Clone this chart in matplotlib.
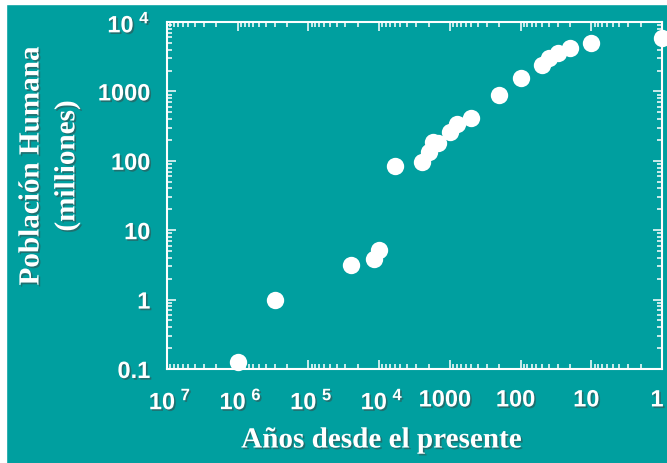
import numpy as np
import matplotlib
matplotlib.use('Agg')
import matplotlib.pyplot as plt
import matplotlib.ticker as mticker
import matplotlib.patheffects as pe
import matplotlib.transforms as mtransforms
from matplotlib.patches import Rectangle

# data
years = [1e6, 3e5, 2.5e4, 1.2e4, 1e4, 6000, 2500, 2000, 1750, 1450, 1000,
         800, 500, 200, 100, 50, 40, 30, 20, 10, 1]
pop = [0.125, 1, 3.1, 3.9, 5.2, 85, 97, 132, 185, 181, 258,
       339, 409, 880, 1560, 2430, 3000, 3570, 4270, 4980, 5820]

xticks = [1e7, 1e6, 1e5, 1e4, 1000, 100, 10, 1]
xlabels = [r'$\mathbf{10}^{\ \mathbf{7}}$', r'$\mathbf{10}^{\ \mathbf{6}}$',
           r'$\mathbf{10}^{\ \mathbf{5}}$', r'$\mathbf{10}^{\ \mathbf{4}}$',
           '1000', '100', '10', '1']
yticks = [0.1, 1, 10, 100, 1000, 1e4]
ylabels = ['0.1', '1', '10', '100', '1000', r'$\mathbf{10}^{\ \mathbf{4}}$']

bg = '#009f9f'
plt.rcParams['mathtext.fontset'] = 'custom'
plt.rcParams['mathtext.bf'] = 'Liberation Sans:bold'
plt.rcParams['mathtext.rm'] = 'Liberation Sans:bold'

shadow = [pe.SimplePatchShadow(offset=(1.2, -1.2), shadow_rgbFace='#404040', alpha=0.5), pe.Normal()]

fig = plt.figure(figsize=(6.67, 4.64), dpi=100, facecolor=bg)
# white strips on the left and top edge
fig.patches.append(Rectangle((0, 0), 6 / 667, 1, transform=fig.transFigure, color='white', zorder=-1))
fig.patches.append(Rectangle((0, 1 - 5 / 464), 1, 5 / 464, transform=fig.transFigure, color='white', zorder=-1))

ax = fig.add_axes([0.2504, 0.2026, 0.7421, 0.7478], facecolor=bg)
ax.plot(years, pop, 'o', color='white', markersize=12.5, markeredgewidth=0, clip_on=False, zorder=5)

ax.set_xscale('log')
ax.set_yscale('log')
ax.set_xlim(1e7, 1)
ax.set_ylim(0.1, 1e4)

ax.xaxis.set_major_locator(mticker.FixedLocator(xticks))
ax.xaxis.set_major_formatter(mticker.FixedFormatter(xlabels))
ax.yaxis.set_major_locator(mticker.FixedLocator(yticks))
ax.yaxis.set_major_formatter(mticker.FixedFormatter(ylabels))
ax.xaxis.set_minor_locator(mticker.LogLocator(subs=np.arange(2, 10), numticks=20))
ax.yaxis.set_minor_locator(mticker.LogLocator(subs=np.arange(2, 10), numticks=20))
ax.xaxis.set_minor_formatter(mticker.NullFormatter())
ax.yaxis.set_minor_formatter(mticker.NullFormatter())

for s in ax.spines.values():
    s.set_color('white')
    s.set_linewidth(1.5)

ax.tick_params(which='both', direction='in', top=True, right=True, colors='white', width=1.1)
ax.tick_params(which='major', length=6.5, pad=12)
ax.tick_params(which='minor', length=3.5)
ax.tick_params(axis='x', which='major', pad=14)

# plain numbers sit a little left of their ticks, powers a little right
for i, lab in enumerate(ax.get_xticklabels()):
    dx = 3 if i < 4 else -5
    shift = mtransforms.ScaledTranslation(dx / 100, 0, fig.dpi_scale_trans)
    lab.set_transform(lab.get_transform() + shift)

for lab in ax.get_xticklabels() + ax.get_yticklabels():
    lab.set_fontfamily('Liberation Sans')
    lab.set_fontweight('bold')
    lab.set_fontsize(17)
    lab.set_color('white')
    lab.set_path_effects(shadow)

fig.text(381 / 667, 1 - 441 / 464, 'Años desde el presente', ha='center', va='center',
         fontfamily='Liberation Serif', fontweight='bold', fontsize=21, color='white',
         path_effects=shadow)
fig.text(31 / 667, 1 - 167 / 464, 'Población Humana', ha='center', va='center', rotation=90,
         fontfamily='Liberation Serif', fontweight='bold', fontsize=21, color='white',
         path_effects=shadow)
fig.text(67 / 667, 1 - 167 / 464, '(milliones)', ha='center', va='center', rotation=90,
         fontfamily='Liberation Serif', fontweight='bold', fontsize=21, color='white',
         path_effects=shadow)

fig.savefig('out.png', dpi=100, facecolor=bg)
